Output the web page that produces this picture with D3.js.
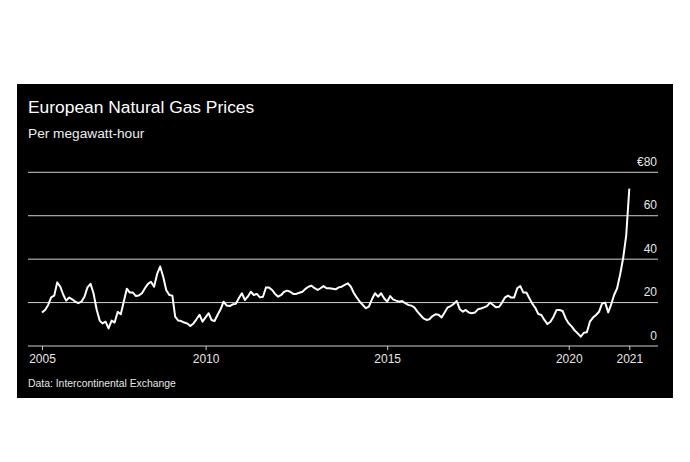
<!DOCTYPE html>
<html>
<head>
<meta charset="utf-8">
<script src="https://cdn.jsdelivr.net/npm/d3@7"></script>
<style>
  html, body { margin: 0; padding: 0; background: #fff; }
  svg { display: block; font-family: "Liberation Sans", Arial, Helvetica, sans-serif; }
</style>
</head>
<body>
<svg id="chart" width="690" height="462"></svg>
<script>
// ---- Data (monthly, first month July 2005, last month September 2021), € per MWh ----
const startYear = 2005;
const startMonth = 6; // July (0-based)
const prices = [
  15.4, 16.6, 18.9, 22.4, 23.2, 29.3, 27.3, 23.5, 20.9, 22.3,
  21.5, 20.4, 19.7, 20.4, 22.7, 27.0, 28.6, 24.3, 16.9, 11.7,
  10.4, 11.2, 8.1, 11.7, 10.8, 15.7, 14.6, 20.4, 26.4, 24.6,
  24.6, 23.0, 23.3, 24.3, 26.6, 28.6, 29.6, 27.3, 33.2, 36.6,
  31.9, 25.8, 23.5, 23.2, 13.5, 11.7, 11.5, 10.8, 10.4, 9.2,
  10.4, 12.3, 14.4, 11.2, 13.2, 15.1, 12.0, 11.5, 14.3, 16.9,
  20.4, 18.6, 18.4, 19.2, 19.4, 22.0, 24.3, 21.2, 22.7, 25.0,
  23.5, 24.0, 22.4, 22.7, 27.0, 26.9, 25.8, 24.0, 22.7, 23.5,
  25.0, 25.5, 25.0, 24.0, 24.0, 24.5, 25.0, 26.3, 27.3, 27.8,
  26.6, 25.8, 26.6, 27.6, 26.6, 26.6, 26.4, 26.1, 27.0, 27.3,
  28.1, 28.9, 27.3, 24.3, 22.4,
  20.4, 18.9, 17.4, 18.1, 21.5, 24.3, 22.7, 24.3, 22.0, 20.4,
  23.0, 21.5, 20.9, 20.4, 20.7, 19.7, 18.9, 18.6, 17.8, 15.8,
  14.3, 12.7, 12.0, 12.3, 13.8, 14.6, 14.4, 13.1, 15.4, 17.8,
  18.4, 19.4, 20.7, 16.9, 15.8, 16.6, 15.4, 15.1, 15.4, 16.9,
  17.3, 17.8, 18.4, 20.0, 18.9, 17.8, 18.1, 20.0, 22.4, 23.2,
  22.3, 22.3, 26.6, 27.6, 24.6, 24.6, 22.0, 19.4, 17.4, 14.7,
  14.3, 12.0, 10.1, 11.2, 13.5, 16.6, 16.6, 16.1, 12.7, 10.4,
  8.9, 7.1, 5.8, 4.3, 6.1, 6.3, 11.2, 13.1, 14.3, 15.8,
  19.5, 20.0, 15.5, 18.9, 23.5, 26.5, 33.0, 40.4, 51.0, 72.5
];
const yTicks = [0, 20, 40, 60, 80];
const yTickLabels = ["0", "20", "40", "60", "€80"];
const xTickYears = [2010, 2015, 2020];
const title = "European Natural Gas Prices";
const subtitle = "Per megawatt-hour";
const source = "Data: Intercontinental Exchange";

const data = prices.map((v, i) => ({ date: new Date(startYear, startMonth + i, 1), value: v }));

// ---- Layout ----
const svg = d3.select("#chart");
const panel = { x: 17, y: 84, w: 656, h: 314 };
const plotLeft = 28, plotRight = 658;

svg.append("rect")
  .attr("x", panel.x).attr("y", panel.y)
  .attr("width", panel.w).attr("height", panel.h)
  .attr("fill", "#000");

const first = data[0].date, last = data[data.length - 1].date;
const x = d3.scaleTime().domain([first, last]).range([42, 629.3]);
const y = d3.scaleLinear().domain([0, 80]).range([346, 172.3]);

// Titles
svg.append("text").attr("x", 28).attr("y", 113)
  .attr("fill", "#fff").attr("font-size", 17.4).text(title);
svg.append("text").attr("x", 28).attr("y", 138)
  .attr("fill", "#eeeeee").attr("font-size", 13.7).text(subtitle);

// Gridlines and y labels
const grid = svg.append("g");
grid.selectAll("line").data(yTicks.filter(d => d > 0)).join("line")
  .attr("x1", plotLeft).attr("x2", plotRight)
  .attr("y1", d => y(d)).attr("y2", d => y(d))
  .attr("stroke", "#cfcfcf").attr("stroke-width", 1);

svg.append("g").selectAll("text").data(yTicks).join("text")
  .attr("x", 657).attr("y", d => y(d) - 6.5)
  .attr("text-anchor", "end")
  .attr("fill", "#e6e6e6").attr("font-size", 12)
  .text((d, i) => yTickLabels[i]);

// X axis
const xTickValues = [first, ...xTickYears.map(yr => new Date(yr, 0, 1)), last];
const xAxis = d3.axisBottom(x)
  .tickValues(xTickValues)
  .tickSize(4)
  .tickPadding(4)
  .tickFormat(d3.timeFormat("%Y"));
const gx = svg.append("g").attr("transform", "translate(0,346)").call(xAxis);
gx.select(".domain").remove();
gx.selectAll(".tick line").attr("stroke", "#cfcfcf");
gx.selectAll(".tick text").attr("fill", "#e6e6e6").attr("font-size", 12)
  .attr("font-family", "\"Liberation Sans\", Arial, sans-serif");
svg.append("line")
  .attr("x1", plotLeft).attr("x2", plotRight)
  .attr("y1", 346).attr("y2", 346)
  .attr("stroke", "#cfcfcf").attr("stroke-width", 1);

// Line
const line = d3.line().x(d => x(d.date)).y(d => y(d.value)).curve(d3.curveLinear);
svg.append("path").datum(data)
  .attr("d", line)
  .attr("fill", "none")
  .attr("stroke", "#fff")
  .attr("stroke-width", 2)
  .attr("stroke-linejoin", "round");

// Source
svg.append("text").attr("x", 28).attr("y", 387)
  .attr("fill", "#e6e6e6").attr("font-size", 10.4).text(source);
</script>
</body>
</html>
